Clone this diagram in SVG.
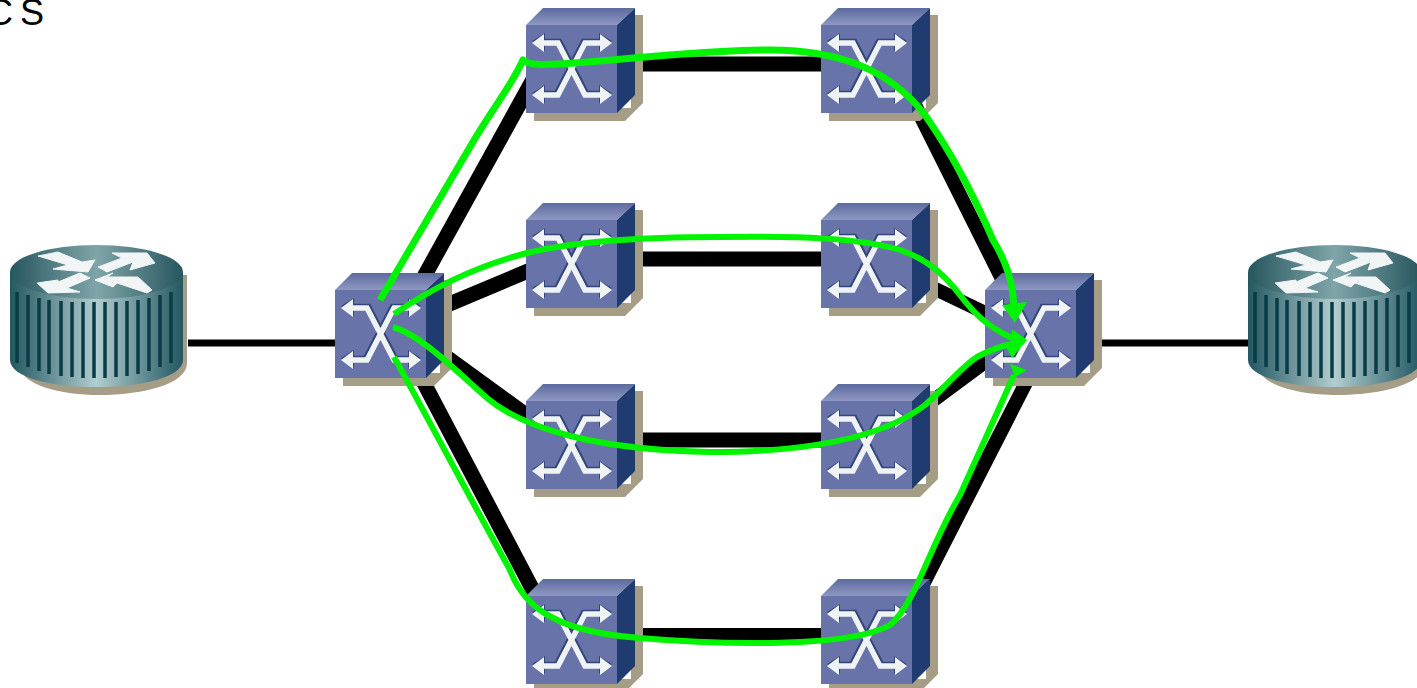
<svg xmlns="http://www.w3.org/2000/svg" xmlns:xlink="http://www.w3.org/1999/xlink" width="1417" height="688" viewBox="0 0 1417 688">
<style>
.link{stroke:#000;fill:none}
.g{stroke:#00f400;fill:none;stroke-linecap:butt;stroke-linejoin:round}
.h{fill:#00f400}
.arm{fill:none;stroke:#f0f3f3;stroke-width:5.500}
.armS{fill:none;stroke:#33467c;stroke-width:5.500}
.hd{fill:#f0f3f3}
.hdS{fill:#33467c}
.slot{stroke:#0a3c47;stroke-width:3.500;fill:none}
.ra{fill:#f2f5f5;stroke:#f2f5f5;stroke-width:1;stroke-linejoin:round}
</style>
<defs>
<linearGradient id="top" x1="0" y1="0" x2="0" y2="1"><stop offset="0" stop-color="#5d6a9e"/><stop offset="1" stop-color="#8e98c2"/></linearGradient>
<linearGradient id="body" x1="0" y1="0" x2="1" y2="0"><stop offset="0" stop-color="#235862"/><stop offset="0.5" stop-color="#b2cdcf"/><stop offset="1" stop-color="#235862"/></linearGradient>
<linearGradient id="cap" x1="0" y1="0" x2="1" y2="0"><stop offset="0" stop-color="#27565f"/><stop offset="0.5" stop-color="#7fa5a9"/><stop offset="1" stop-color="#27565f"/></linearGradient>
<symbol id="sw" width="118" height="114" viewBox="0 0 118 114" overflow="visible">
<polygon points="8,100 8,113 99,113 117,95 117,7 105,7 105,100" fill="#a69d86"/>
<polygon points="0,17 17,0 109,0 91,17" fill="url(#top)"/>
<polygon points="91,17 109,0 109,87 91,105" fill="#1f3b6f"/>
<rect x="0" y="17" width="91" height="88" fill="#6874a9"/>
<path class="armS" d="M18,33.500H33.500L60.500,85.500H74M74,33.500H57.500L30.500,85.500H18"/>
<polygon class="hdS" points="19,25 19,43 6,33"/>
<polygon class="hdS" points="73,25 73,43 86,33"/>
<polygon class="hdS" points="19,77 19,95 6,85"/>
<polygon class="hdS" points="73,77 73,95 86,85"/>
<path class="arm" d="M16,35H32L59,87H76M76,35H59L32,87H16"/>
<polygon class="hd" points="18,26 18,44 6,35"/>
<polygon class="hd" points="74,26 74,44 86,35"/>
<polygon class="hd" points="18,78 18,96 6,87"/>
<polygon class="hd" points="74,78 74,96 86,87"/>
</symbol>
<symbol id="rt" width="180" height="155" viewBox="0 0 180 155" overflow="visible">
<path d="M10,30V120C10,140 50,150 90,150C130,150 177,140 177,118V30Z" fill="#a69d86"/>
<path d="M0,27V115C0,132 40,142 86,142C132,142 173,132 173,115V27Z" fill="url(#body)"/>
<ellipse cx="86.500" cy="27" rx="86.500" ry="27" fill="url(#cap)"/>
<path class="slot" d="M7,47V118M18,50V122M29,53V126M39,55V129M51,56V131M62,57V132M73,57V133M84,57V133M95,57V133M106,57V132M117,56V131M128,55V129M139,53V126M150,50V122M161,47V118"/>
<polygon class="ra" points="28,11 48,7 72,17 85,15 78,27 43,24 58,20"/>
<polygon class="ra" points="102,8 137,8 145,18 120,25 123,17 97,27 88,22 112,13"/>
<polygon class="ra" points="27,38 48,35 48,37 70,28 80,33 57,43 70,47 38,48"/>
<polygon class="ra" points="85,35 103,28 97,32 128,32 142,45 137,48 107,38 103,42"/>
</symbol>
</defs>
<text x="-13 20" y="25" font-family="Liberation Sans, Arial, sans-serif" font-size="36" fill="#000">CS</text>
<g id="connectors">
<g class="link">
<path stroke-width="7" d="M188,343H335M1101,343H1248"/>
<path stroke-width="15" d="M415,293L535,76M440,308L540,266M430,345L540,425M415,366L535,594"/>
<path stroke-width="15" d="M630,64H830M630,259H830M630,440H830"/>
<path stroke-width="12" d="M630,634H830"/>
<path stroke-width="14" d="M915,105L1005,285M925,284L1000,320M915,414L1000,351M915,600L1035,365"/>
</g>
</g>
<g id="sw-center"><use href="#sw" x="335" y="273" width="118" height="114"/></g>
<g id="sw-right"><use href="#sw" x="985" y="273" width="118" height="114"/></g>
<g id="sw-a1"><use href="#sw" x="526" y="8" width="118" height="114"/></g>
<g id="sw-a2"><use href="#sw" x="821" y="8" width="118" height="114"/></g>
<g id="sw-b1"><use href="#sw" x="526" y="203" width="118" height="114"/></g>
<g id="sw-b2"><use href="#sw" x="821" y="203" width="118" height="114"/></g>
<g id="sw-c1"><use href="#sw" x="526" y="384" width="118" height="114"/></g>
<g id="sw-c2"><use href="#sw" x="821" y="384" width="118" height="114"/></g>
<g id="sw-d1"><use href="#sw" x="526" y="579" width="118" height="114"/></g>
<g id="sw-d2"><use href="#sw" x="821" y="579" width="118" height="114"/></g>
<g id="router-left"><use href="#rt" x="10" y="245" width="180" height="155"/></g>
<g id="router-right"><use href="#rt" x="1248" y="245" width="180" height="155"/></g>
<g id="green-paths">
<path class="g" stroke-width="7" d="M380,300L470,147C490,112 512,85 523,60C530,65 540,65 560,64C620,60 700,50 770,50C840,50 890,70 925,115C955,158 978,205 993,240C1005,260 1013,280 1014,308"/>
<path class="g" stroke-width="6" d="M394,314C430,290 470,268 527,253C580,240 660,237 720,237C800,236 860,238 900,250C925,258 945,275 960,295C975,315 990,328 1012,338"/>
<path class="g" stroke-width="6" d="M393,327C420,335 450,365 487,398C525,430 600,450 710,452C800,452 880,440 925,405C945,388 960,368 977,357C990,350 1000,346 1012,344"/>
<path class="g" stroke-width="6" d="M394,357C410,385 460,480 510,570C525,610 560,632 640,638C720,645 850,648 890,625C915,605 930,545 960,495L1014,375"/>
<polygon class="h" points="1015,323 1002,305 1027,302"/>
<polygon class="h" points="1027,340 1012,329 1010,355"/>
<polygon class="h" points="1027,340 1005,345 1012,358"/>
<polygon class="h" points="1027,370 1010,364 1015,377"/>
</g>
</svg>
